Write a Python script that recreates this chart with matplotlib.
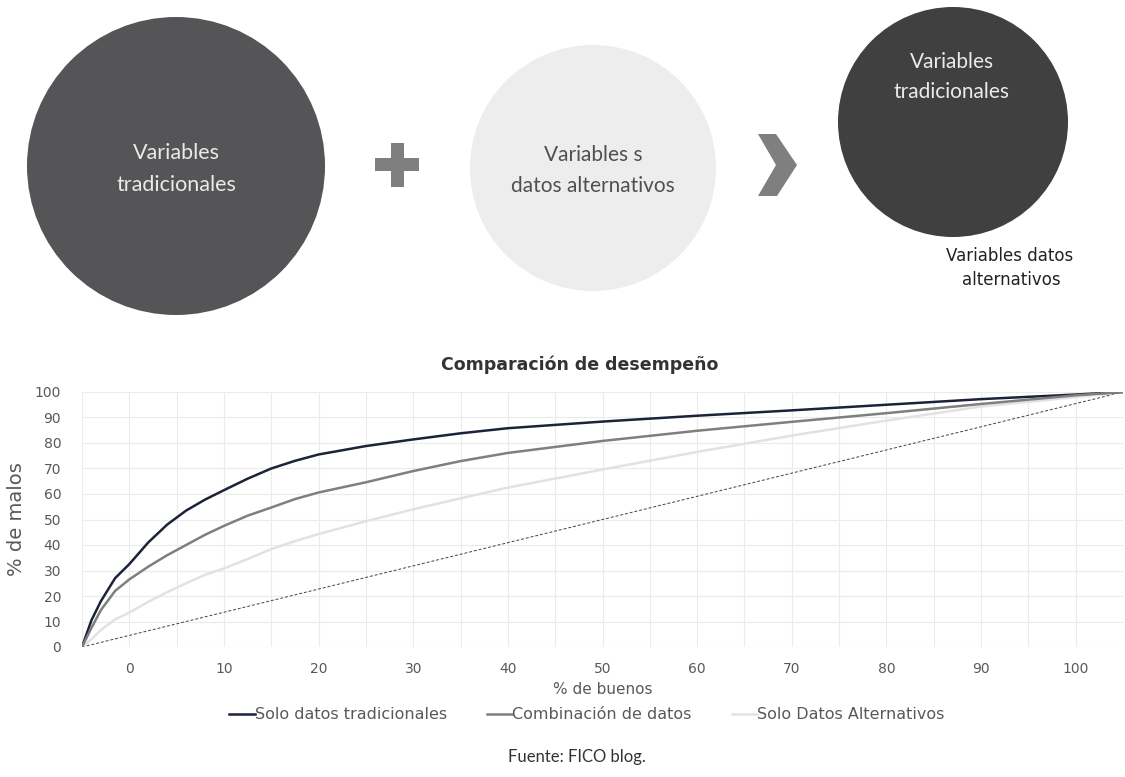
import matplotlib
matplotlib.use("Agg")
import matplotlib.pyplot as plt
from matplotlib.patches import Circle, Polygon, Rectangle
import numpy as np

# curve readings (x in tick-label units, y in %)
x_buenos = [-5, -4, -3, -1.5, 0, 2, 4, 6, 8, 10, 12.5, 15, 17.5, 20, 25, 30, 35, 40, 50, 60, 70, 80, 90, 100, 105]
solo_trad = [0, 10.5, 18, 27, 32.5, 41, 48, 53.5, 57.8, 61.5, 66, 70, 73, 75.5, 78.8, 81.4, 83.8, 85.8, 88.4, 90.7, 92.8, 95, 97.2, 99, 100]
combinacion = [0, 7.5, 14.5, 22, 26.5, 31.5, 36, 40, 44, 47.5, 51.5, 54.7, 58, 60.6, 64.6, 69, 72.9, 76.1, 80.8, 84.8, 88.3, 91.7, 95.3, 98.7, 100]
solo_alt = [0, 3, 6.7, 10.8, 13.5, 17.7, 21.5, 25, 28.3, 30.8, 34.5, 38.4, 41.5, 44.3, 49.3, 54, 58.3, 62.5, 69.6, 76.5, 82.9, 88.8, 94.3, 98, 100]
ref_x = [-5, 105]
ref_y = [0, 100]

series_names = ["Solo datos tradicionales", "Combinación de datos", "Solo Datos Alternativos"]
series_colors = ["#1b2339", "#7f7f7f", "#e2e2e2"]

x_ticks = list(range(-5, 106, 5))
x_ticklabels = [str(t) if t % 10 == 0 else "" for t in x_ticks]
y_ticks = list(range(0, 101, 10))

narrow = ["Liberation Sans Narrow", "DejaVu Sans"]

fig = plt.figure(figsize=(11.25, 7.77), dpi=100)

# ---- top diagram ----
dg = fig.add_axes([0, 0, 1, 1])
dg.set_xlim(0, 1125)
dg.set_ylim(777, 0)
dg.axis("off")

dg.add_patch(Circle((176, 166), 149, color="#555557", lw=0))
dg.add_patch(Circle((593, 168), 123, color="#ededed", lw=0))
dg.add_patch(Circle((953, 122), 115, color="#404040", lw=0))
dg.add_patch(Rectangle((375, 158), 44, 13, color="#7f7f7f", lw=0))
dg.add_patch(Rectangle((390.5, 143), 13, 44, color="#7f7f7f", lw=0))
dg.add_patch(Polygon([(758, 134), (776, 134), (797, 165), (777, 196), (758, 196), (776, 165)],
                     closed=True, color="#7f7f7f", lw=0))

lato = ["Lato", "DejaVu Sans"]
dg.text(176, 153, "Variables", color="#eaeaea", family=lato, fontsize=15.5, ha="center", va="center")
dg.text(176, 185, "tradicionales", color="#eaeaea", family=lato, fontsize=15.5, ha="center", va="center")
dg.text(593, 155, "Variables s", color="#505050", family=lato, fontsize=15, ha="center", va="center")
dg.text(593, 186, "datos alternativos", color="#505050", family=lato, fontsize=15, ha="center", va="center")
dg.text(952, 62, "Variables", color="#eaeaea", family=lato, fontsize=15, ha="center", va="center")
dg.text(952, 92, "tradicionales", color="#eaeaea", family=lato, fontsize=15, ha="center", va="center")
dg.text(1010, 256, "Variables datos", color="#222222", family=narrow, fontsize=12,
        ha="center", va="center")
dg.text(1011, 280, "alternativos", color="#222222", family=narrow, fontsize=12,
        ha="center", va="center")

dg.text(580, 365, "Comparación de desempeño", color="#333333", fontsize=12.5,
        fontweight="bold", ha="center", va="center")
dg.text(577, 757, "Fuente: FICO blog.", color="#333333", family=lato,
        fontsize=12, ha="center", va="center")

# ---- chart ----
ax = fig.add_axes([82 / 1125, 130 / 777, 1041 / 1125, 255 / 777])
ax.plot(ref_x, ref_y, color="#404040", lw=0.7, ls=(0, (3, 2)), zorder=2)
for ys, name, col in zip([solo_trad, combinacion, solo_alt], series_names, series_colors):
    ax.plot(x_buenos, ys, color=col, lw=1.8, label=name, zorder=3 if col != "#e2e2e2" else 2.5)

ax.set_xlim(-5, 105)
ax.set_ylim(0, 100)
ax.set_xticks(x_ticks)
ax.set_xticklabels(x_ticklabels)
ax.set_yticks(y_ticks)
ax.grid(True, color="#ebebeb", lw=0.8)
ax.set_axisbelow(True)
for s in ax.spines.values():
    s.set_visible(False)
ax.tick_params(length=0, colors="#595959", labelsize=10)
ax.tick_params(axis="y", pad=15)
ax.tick_params(axis="x", pad=11)

ax.set_ylabel("% de malos", color="#595959", fontsize=14, labelpad=6)
ax.set_xlabel("% de buenos", color="#595959", family=narrow, fontsize=11, labelpad=4)

leg = ax.legend(loc="upper center", bbox_to_anchor=(0.485, -0.18), ncol=3, frameon=False,
                prop={"family": narrow, "size": 11.5}, handlelength=1.6, handletextpad=0.0,
                columnspacing=2.5)
for t in leg.get_texts():
    t.set_color("#595959")

fig.savefig("out.png", dpi=100)
